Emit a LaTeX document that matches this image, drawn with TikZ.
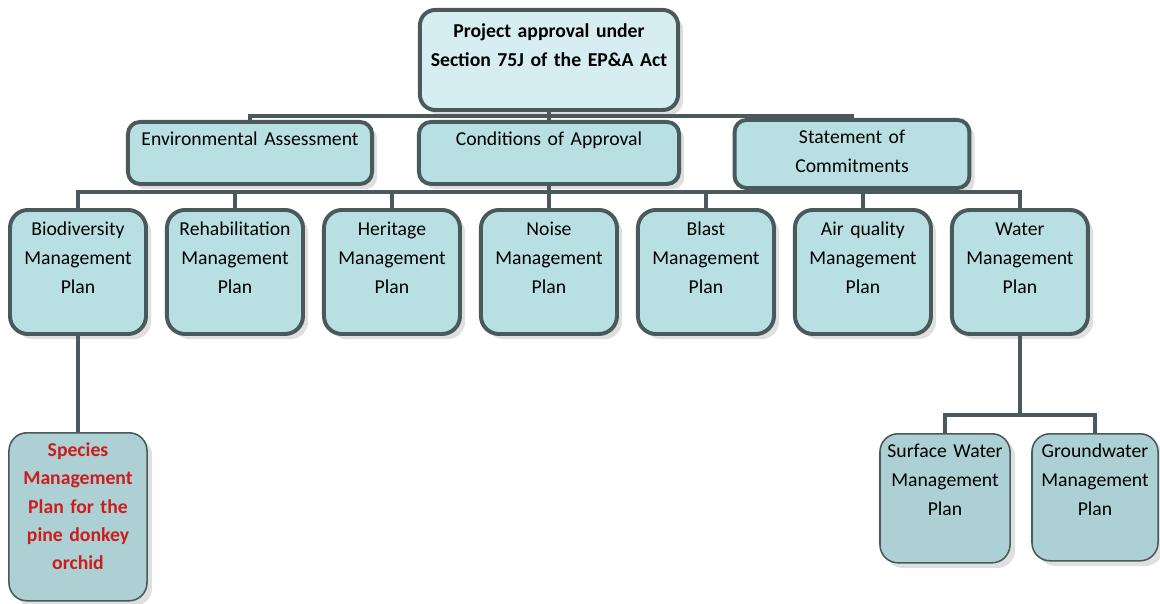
\documentclass[tikz,border=0pt]{standalone}
\usepackage{fontspec}
\setmainfont{Carlito}
\usepackage{tikz}
\usetikzlibrary{positioning, shadows}
\usepackage{xcolor}
\definecolor{edge}{RGB}{74, 90, 92}
\definecolor{approvalfill}{RGB}{214, 237, 241}
\definecolor{planfill}{RGB}{184, 223, 226}
\definecolor{subfill}{RGB}{172, 208, 211}
\definecolor{orchidred}{RGB}{204, 28, 28}
\tikzstyle{box}      = [rectangle, draw=edge, line width=2.8pt, align=center, anchor=north,
                        inner xsep=1pt, inner ysep=0.1cm, text height=0.5cm,
                        font=\fontsize{14}{20.5}\selectfont,
                        drop shadow={shadow xshift=0.13cm, shadow yshift=-0.13cm, fill=black!25}]
\tikzstyle{approval} = [box, fill=approvalfill, rounded corners=0.38cm, text width=6.38cm,
                        text height=0.58cm, text depth=1.72cm,
                        font=\fontsize{14}{20.5}\selectfont\bfseries]
\tikzstyle{docbox}   = [box, fill=planfill, rounded corners=0.3cm, text depth=0.85cm]
\tikzstyle{plan}     = [box, fill=planfill, rounded corners=0.45cm, text width=3.33cm,
                        text height=0.55cm, text depth=2.35cm]
\tikzstyle{subplan}  = [box, fill=subfill, line width=1.1pt, rounded corners=0.45cm,
                        text width=3.38cm, text depth=3.5cm]
\tikzstyle{link}     = [draw=edge, line width=2.8pt]

\begin{document}
\begin{tikzpicture}[x=0.025cm, y=-0.025cm]
  \useasboundingbox (0,0) rectangle (1160,604);

  \node (top)  [approval] at (549,8) {Project approval under\\Section 75J of the EP\&A Act};

  % approval documents
  \node (env)  [docbox, text width=6.03cm] at (250,120) {Environmental Assessment};
  \node (cond) [docbox, text width=6.43cm] at (549,120) {Conditions of Approval};
  \node (stmt) [docbox, text width=5.8cm, text depth=1.0cm] at (852,118) {Statement of\\Commitments};

  % management plans
  \node (bio)   [plan] at (78,208) {Biodiversity\\Management\\Plan};
  \node (rehab) [plan, right=0.425cm of bio]   {Rehabilitation\\Management\\Plan};
  \node (herit) [plan, right=0.425cm of rehab] {Heritage\\Management\\Plan};
  \node (noise) [plan, right=0.425cm of herit] {Noise\\Management\\Plan};
  \node (blast) [plan, right=0.425cm of noise] {Blast\\Management\\Plan};
  \node (air)   [plan, right=0.425cm of blast] {Air quality\\Management\\Plan};
  \node (water) [plan, right=0.425cm of air]   {Water\\Management\\Plan};

  % sub-plans
  \node (orchid)  [subplan, text=orchidred, font=\fontsize{14}{20}\selectfont\bfseries]
                  at (78,432) {Species\\Management\\Plan for the\\pine donkey\\orchid};
  \node (surface) [subplan, text width=3.18cm, text depth=2.525cm] at (945,433)
                  {Surface Water\\Management\\Plan};
  \node (ground)  [subplan, text width=3.08cm, text depth=2.475cm] at (1095,433)
                  {Groundwater\\Management\\Plan};

  \coordinate (bus1)  at (549,116);
  \coordinate (bus2)  at (cond.south |- 0,192);
  \coordinate (wbus)  at (water.south |- 0,415);

  \draw [link] (top)  -- (bus1);
  \draw [link] (bus1) -| (env);
  \draw [link] (bus1) -- (cond);
  \draw [link] (bus1) -| (stmt);
  \draw [link] (cond) -- (bus2);
  \draw [link] (bus2) -| (bio);
  \draw [link] (bus2) -| (rehab);
  \draw [link] (bus2) -| (herit);
  \draw [link] (bus2) -| (noise);
  \draw [link] (bus2) -| (blast);
  \draw [link] (bus2) -| (air);
  \draw [link] (bus2) -| (water);
  \draw [link] (bio)  -- (orchid);
  \draw [link] (water) -- (wbus);
  \draw [link] (wbus) -| (surface);
  \draw [link] (wbus) -| (ground);
\end{tikzpicture}
\end{document}
